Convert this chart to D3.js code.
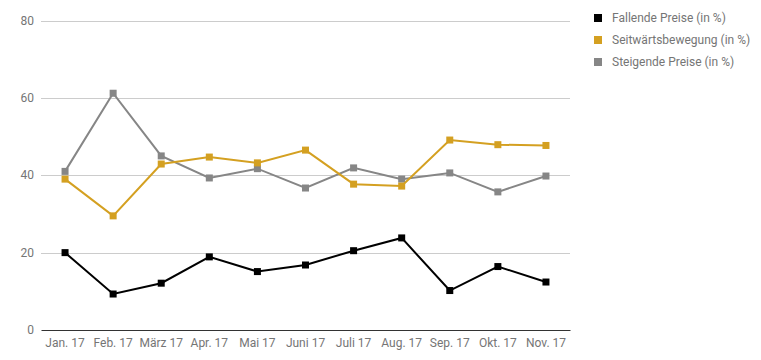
<!DOCTYPE html>
<html><head><meta charset="utf-8">
<script src="https://cdn.jsdelivr.net/npm/d3@7"></script>
<style>body{margin:0;background:#fff;font-family:Roboto,"Noto Sans",sans-serif;}</style>
</head><body><svg id="c" width="761" height="360"></svg>
<script>
const categories = ["Jan. 17","Feb. 17","März 17","Apr. 17","Mai 17","Juni 17","Juli 17","Aug. 17","Sep. 17","Okt. 17","Nov. 17"];
const seriesNames = ["Fallende Preise (in %)","Seitwärtsbewegung (in %)","Steigende Preise (in %)"];
const fallende = [20.0, 9.3, 12.1, 18.9, 15.1, 16.8, 20.5, 23.8, 10.2, 16.4, 12.4];
const seitwaerts = [39.0, 29.5, 42.9, 44.7, 43.2, 46.5, 37.7, 37.2, 49.1, 47.9, 47.7];
const steigende = [41.0, 61.2, 45.0, 39.3, 41.7, 36.7, 41.9, 39.0, 40.6, 35.7, 39.8];
const colors = ["#000000", "#d4a021", "#868686"];
const yTicks = [0, 20, 40, 60, 80];

(function () {
const svg = d3.select("#c");
const mLeft = 41, mRight = 570, mTop = 20.5, mBottom = 330;
const x = d3.scaleBand().domain(categories).range([mLeft, mRight]);
const y = d3.scaleLinear().domain([0, 80]).range([mBottom, mTop]);

svg.append("g").selectAll("line").data(yTicks.filter(d => d > 0)).join("line")
  .attr("x1", mLeft).attr("x2", mRight)
  .attr("y1", d => Math.round(y(d)) + 0.5).attr("y2", d => Math.round(y(d)) + 0.5)
  .attr("stroke", "#cccccc").attr("stroke-width", 1);

svg.append("g").selectAll("text").data(yTicks).join("text")
  .attr("x", 34).attr("y", d => y(d)).attr("dy", "0.35em")
  .attr("text-anchor", "end").attr("fill", "#757575").attr("font-size", 12)
  .text(d => d);

const xAxis = svg.append("g").attr("transform", `translate(0,${mBottom})`)
  .call(d3.axisBottom(x).tickSize(0).tickPadding(8));
xAxis.select(".domain").attr("stroke", "#333333").attr("stroke-width", 1);
xAxis.selectAll("text").attr("fill", "#757575").attr("font-size", 12)
  .attr("font-family", "Roboto, sans-serif");

const data = [fallende, seitwaerts, steigende];
const line = d3.line().x((d, i) => x(categories[i]) + x.bandwidth() / 2).y(d => y(d));

[2, 1, 0].forEach(si => {
  const g = svg.append("g");
  g.append("path").datum(data[si]).attr("d", line)
    .attr("fill", "none").attr("stroke", colors[si]).attr("stroke-width", 2);
  g.selectAll("rect").data(data[si]).join("rect")
    .attr("x", (d, i) => x(categories[i]) + x.bandwidth() / 2 - 3.5)
    .attr("y", d => y(d) - 3.5)
    .attr("width", 7).attr("height", 7)
    .attr("fill", colors[si]);
});

const leg = svg.append("g");
seriesNames.forEach((n, i) => {
  const yy = 18 + i * 22;
  leg.append("rect").attr("x", 594).attr("y", yy - 4).attr("width", 8).attr("height", 8).attr("fill", colors[i]);
  leg.append("text").attr("x", 612).attr("y", yy).attr("dy", "0.35em")
    .attr("fill", "#757575").attr("font-size", 12).text(n);
});
})();
</script></body></html>
